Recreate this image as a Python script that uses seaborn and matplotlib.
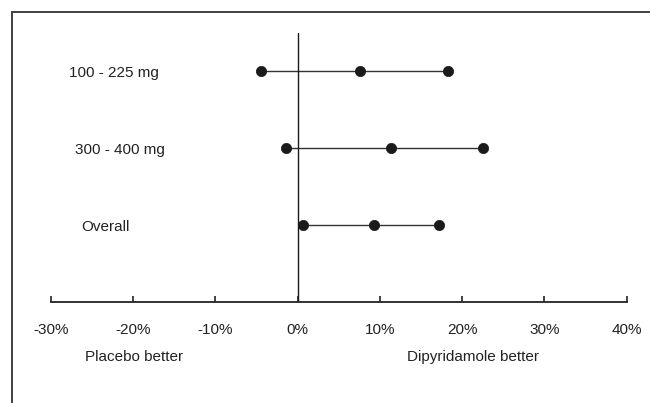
import pandas as pd
import matplotlib
matplotlib.use("Agg")
import matplotlib.pyplot as plt
import seaborn as sns
from matplotlib.lines import Line2D

# forest plot data (percent difference)
groups = ["100 - 225 mg", "300 - 400 mg", "Overall"]
row_pos = [3, 2, 1]
lower = [-4.5, -1.4, 0.7]
estimate = [7.6, 11.4, 9.3]
upper = [18.3, 22.5, 17.2]
xticks = [-30, -20, -10, 0, 10, 20, 30, 40]
xticklabels = ["-30%", "-20%", "-10%", "0%", "10%", "20%", "30%", "40%"]

sns.set_theme(style="white")
plt.rcParams["font.family"] = ["Liberation Sans", "DejaVu Sans"]

rows = []
for g, y, lo, est, hi in zip(groups, row_pos, lower, estimate, upper):
    for v in (lo, est, hi):
        rows.append({"group": g, "y": y, "value": v})
df = pd.DataFrame(rows)

fs = 11

fig = plt.figure(figsize=(6.5, 4.03), dpi=100)
ax = fig.add_axes([51 / 650, 1 - 302 / 403, 575.5 / 650, 269 / 403])

sns.lineplot(data=df, x="value", y="y", units="group", estimator=None,
             sort=False, color="#333333", linewidth=1.0, ax=ax, legend=False)
sns.scatterplot(data=df, x="value", y="y", color="#1a1a1a", s=55,
                edgecolor="#1a1a1a", linewidth=0.5, ax=ax, zorder=3, legend=False)

ax.axvline(0, color="#1a1a1a", linewidth=1.0)

ax.set_xlim(-30, 40)
ax.set_ylim(0, 3.5)
ax.set_xticks(xticks)
ax.set_xticklabels(xticklabels, fontsize=fs, color="#222222")
ax.set_yticks([])
ax.set_xlabel("")
ax.set_ylabel("")
ax.tick_params(axis="x", direction="in", length=4, width=1.2, color="#222222",
               pad=15, bottom=True)
for side in ["left", "top", "right"]:
    ax.spines[side].set_visible(False)
ax.spines["bottom"].set_color("#222222")
ax.spines["bottom"].set_linewidth(1.3)

label_x = [-27.8, -27.1, -26.3]
for g, y, lx in zip(groups, row_pos, label_x):
    ax.text(lx, y - 0.02, g, ha="left", va="center", fontsize=fs, color="#222222")

ax.text(-19.9, -0.72, "Placebo better", ha="center", va="center",
        fontsize=fs, color="#222222", clip_on=False)
ax.text(21.3, -0.72, "Dipyridamole better", ha="center", va="center",
        fontsize=fs, color="#222222", clip_on=False)

# frame lines (top and left only)
fig.add_artist(Line2D([11.5 / 650, 1], [1 - 11.5 / 403, 1 - 11.5 / 403],
                      color="#333333", linewidth=1.3))
fig.add_artist(Line2D([11.5 / 650, 11.5 / 650], [0, 1 - 11.5 / 403],
                      color="#333333", linewidth=1.3))

fig.savefig("out.png", dpi=100)
